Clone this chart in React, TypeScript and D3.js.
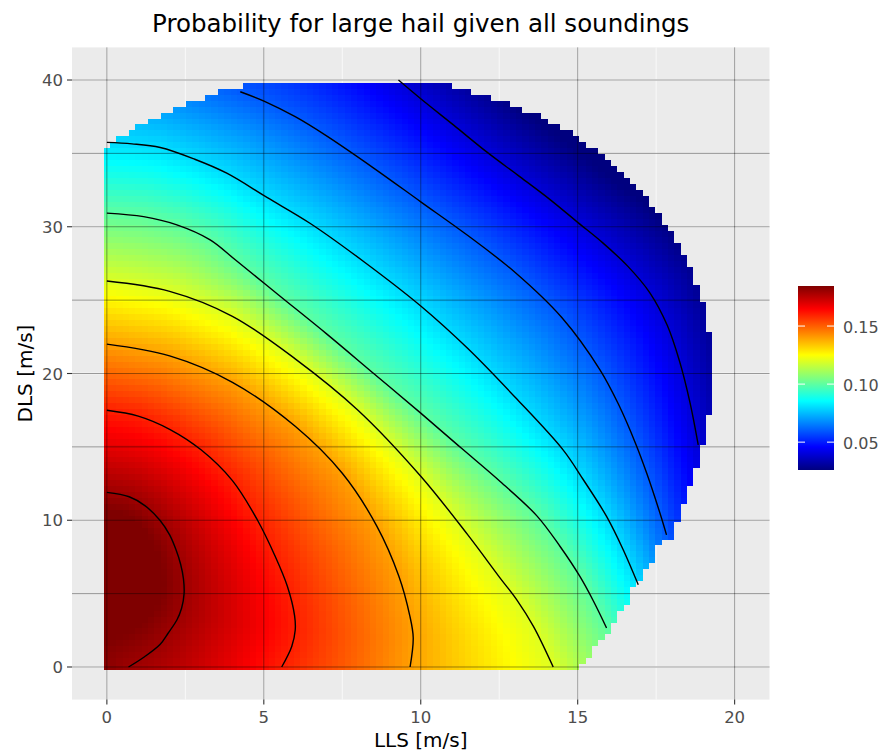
import React, { useMemo } from "react";
import * as d3 from "d3";

// ---------- text ----------
const titleText = "Probability for large hail given all soundings";
const xLabel = "LLS [m/s]";
const yLabel = "DLS [m/s]";

// ---------- axes ----------
const xTicks = [0, 5, 10, 15, 20];
const yTicks = [0, 10, 20, 30, 40];
const xMinor = [2.5, 7.5, 12.5, 17.5];
const yMinor = [5, 15, 25, 35];
const refLinesX = [0, 5, 10, 15, 20];
const refLinesY = [0, 5, 10, 15, 20, 25, 30, 35, 40];
const xDomain = [-1.111, 21.111];
const yDomain = [-2.222, 42.222];

// ---------- colour scale ----------
const legendTicks = [0.05, 0.1, 0.15];
const valueRange = [0.026, 0.1845];
const paletteColors = ["#00007F", "#0000FF", "#007FFF", "#00FFFF", "#7FFF7F", "#FFFF00", "#FF7F00", "#FF0000", "#7F0000"];

// ---------- raster grid (100 x 100 cells) ----------
const gridN = 100;
const gridLLSMax = 20;
const gridDLSMax = 40;

// ---------- contour lines [LLS, DLS] ----------
const contourLevels = [0.04, 0.06, 0.08, 0.1, 0.12, 0.14, 0.16, 0.18];
const contour004 = [[9.29, 40], [9.98, 38.76], [11.04, 36.94], [12.1, 35.1], [13.1, 33.5], [14.12, 31.85], [15.0, 30.3], [15.8, 28.9], [16.6, 27.3], [17.3, 25.5], [17.85, 23.3], [18.25, 20.8], [18.58, 18.0], [18.84, 15.14]];
const contour006 = [[4.25, 39.2], [5.04, 38.53], [6.0, 37.5], [6.95, 36.26], [8.5, 34.0], [10, 31.7], [11.5, 29.4], [13, 26.9], [14.5, 23.8], [15.71, 20.25], [16.3, 17.9], [16.85, 15.2], [17.2, 13.2], [17.62, 10.49], [17.83, 9.0]];
const contour008 = [[0, 35.75], [0.8, 35.65], [1.7, 35.4], [2.8, 34.6], [3.82, 33.65], [5.1, 32.0], [6.47, 30.24], [8.2, 27.6], [10, 24.6], [11.5, 21.7], [13, 18.4], [14.54, 14.78], [15.18, 12.76], [15.92, 10.26], [16.45, 7.99], [16.93, 5.6]];
const contour010 = [[0, 30.93], [1.17, 30.69], [2.23, 30.13], [3.29, 29.11], [4.09, 27.75], [5.5, 25.3], [7, 22.7], [8.5, 20.0], [10, 17.3], [11.3, 14.9], [12.53, 12.64], [13.7, 10.3], [14.44, 8.21], [15.07, 6.17], [15.5, 4.5], [15.92, 2.66]];
const contour012 = [[0, 26.3], [2, 25.6], [4, 23.9], [6, 21.0], [8, 17.5], [10, 13.0], [11.5, 9.0], [12.53, 6.06], [13.06, 4.58], [13.59, 2.77], [14.22, 0]];
const contour014 = [[0, 22.0], [2, 21.2], [4, 19.4], [6, 16.4], [7.5, 13.2], [8.6, 9.6], [9.3, 6.2], [9.65, 3.5], [9.76, 2.0], [9.66, 0]];
const contour016 = [[0, 17.5], [1, 17.1], [2, 16.2], [3, 14.8], [4, 12.7], [4.8, 10.0], [5.35, 7.6], [5.75, 5.5], [5.98, 3.5], [6.0, 2.5], [5.89, 1.4], [5.57, 0]];
const contour018 = [[0, 11.9], [0.71, 11.6], [1.21, 11.0], [1.69, 10.0], [2.0, 9.0], [2.2, 8.0], [2.35, 7.0], [2.44, 6.0], [2.46, 5.0], [2.38, 4.0], [2.23, 3.2], [1.95, 2.3], [1.7, 1.55], [1.2, 0.7], [0.69, 0]];

// ---------- outline of the area that holds data [LLS, DLS] ----------
const maskBoundary = [[-1, -1], [-1, 35.15], [-0.09, 35.15], [0.11, 35.56], [0.3, 36.0], [0.72, 36.4], [0.92, 36.8], [1.31, 37.24], [1.73, 37.65], [2.12, 38.06], [2.52, 38.42], [3.13, 38.83], [3.53, 39.24], [4.35, 39.62], [5.15, 40.0], [10.19, 40.0], [11.02, 39.62], [11.62, 39.24], [12.23, 38.83], [12.84, 38.42], [13.25, 38.06], [13.67, 37.65], [14.34, 36.94], [14.55, 36.6], [14.95, 36.19], [15.16, 35.81], [15.38, 35.42], [15.77, 35.01], [15.96, 34.51], [16.17, 34.15], [16.37, 33.69], [16.6, 33.31], [16.8, 32.92], [17.01, 32.51], [17.18, 32.1], [17.39, 31.26], [17.6, 30.88], [17.78, 30.06], [18.0, 29.63], [18.19, 28.83], [18.4, 28.01], [18.6, 27.29], [18.79, 26.04], [19.01, 24.9], [19.2, 22.86], [19.2, 17.19], [19.01, 15.14], [18.79, 13.55], [18.58, 12.3], [18.4, 11.17], [18.21, 9.92], [18.0, 8.9], [17.63, 8.33], [17.42, 7.43], [17.2, 6.63], [16.99, 5.83], [16.78, 5.38], [16.6, 4.58], [16.4, 3.79], [16.19, 3.0], [15.98, 2.32], [15.77, 1.86], [15.58, 1.4], [15.37, 0.61], [15.19, 0.22], [14.98, -0.2], [14.98, -1]];

const contourData = [contour004, contour006, contour008, contour010, contour012, contour014, contour016, contour018];

// ---------- layout ----------
const W = 882;
const H = 755;
const panel = { left: 72, right: 769.5, top: 47.4, bottom: 699.6 };
const legendBox = { x: 798, y: 286, w: 36, h: 184 };
const FONT = "'DejaVu Sans', 'Liberation Sans', Arial, sans-serif";

function extendLine(pts: number[][]) {
  const first = pts[0], second = pts[1];
  const last = pts[pts.length - 1], prev = pts[pts.length - 2];
  let head: number[][];
  let corner: number[][] = [];
  if (first[0] <= 0.05) {
    head = [[-3, first[1]]];
  } else {
    const dx = first[0] - second[0], dy = first[1] - second[1];
    const t = (44 - first[1]) / dy;
    head = [[first[0] + t * dx, 44]];
    corner = [[-3, 44]];
  }
  let tail: number[][];
  if (last[1] <= 0.05) {
    tail = [[last[0], -3]];
  } else {
    const dx = last[0] - prev[0], dy = last[1] - prev[1];
    const t = (-3 - last[1]) / dy;
    tail = [[last[0] + t * dx, -3]];
  }
  const line = [...head, ...pts, ...tail];
  const poly = [...corner, ...line, [-3, -3]];
  return { line, poly };
}

function distToPolyline(p: number[], line: number[][]) {
  let best = Infinity;
  for (let i = 0; i < line.length - 1; i++) {
    const a = line[i], b = line[i + 1];
    const vx = b[0] - a[0], vy = b[1] - a[1];
    const wx = p[0] - a[0], wy = p[1] - a[1];
    const l2 = vx * vx + vy * vy;
    let t = l2 > 0 ? (wx * vx + wy * vy) / l2 : 0;
    t = Math.max(0, Math.min(1, t));
    const dx = wx - t * vx, dy = wy - t * vy;
    const d = Math.sqrt(dx * dx + dy * dy);
    if (d < best) best = d;
  }
  return best;
}

export default function App() {
  const xs = d3.scaleLinear().domain(xDomain).range([panel.left, panel.right]);
  const ys = d3.scaleLinear().domain(yDomain).range([panel.bottom, panel.top]);
  const colorStops = paletteColors.map((_, i) => valueRange[0] + (i * (valueRange[1] - valueRange[0])) / (paletteColors.length - 1));
  const color = d3.scaleLinear<string>().domain(colorStops).range(paletteColors).interpolate(d3.interpolateRgb).clamp(true);
  const legendScale = d3.scaleLinear().domain(valueRange).range([legendBox.y + legendBox.h, legendBox.y]);

  const cells = useMemo(() => {
    const ext = contourData.map(extendLine);
    const linePx = ext.map((e) => e.line.map(([a, b]) => [xs(a), ys(b)]));
    const polyPx = ext.map((e) => e.poly.map(([a, b]) => [xs(a), ys(b)] as [number, number]));
    const mask = maskBoundary.map(([a, b]) => [a, b] as [number, number]);
    const stepX = gridLLSMax / (gridN - 1);
    const stepY = gridDLSMax / (gridN - 1);
    const out: { x: number; y: number; w: number; h: number; fill: string }[] = [];
    const L = contourLevels;
    const K = L.length;
    for (let i = 0; i < gridN; i++) {
      const cx = i * stepX;
      const x0 = xs((i - 0.5) * stepX), x1 = xs((i + 0.5) * stepX);
      for (let j = 0; j < gridN; j++) {
        const cy = j * stepY;
        if (!d3.polygonContains(mask, [cx, cy])) continue;
        const p: [number, number] = [xs(cx), ys(cy)];
        const d: number[] = [];
        let n = 0;
        for (let k = 0; k < K; k++) {
          d.push(distToPolyline(p, linePx[k]));
          if (d3.polygonContains(polyPx[k], p)) n++;
        }
        let v: number;
        if (n === 0) {
          v = L[0] - (L[1] - L[0]) * (d[0] / Math.max(d[1] - d[0], 1));
        } else if (n === K) {
          v = L[K - 1] + (L[K - 1] - L[K - 2]) * (d[K - 1] / Math.max(d[K - 2] - d[K - 1], 1));
        } else {
          const a = d[n - 1], b = d[n];
          v = L[n - 1] + (L[n] - L[n - 1]) * (a / Math.max(a + b, 1e-6));
        }
        v = Math.max(valueRange[0], Math.min(valueRange[1], v));
        const y0 = ys((j + 0.5) * stepY), y1 = ys((j - 0.5) * stepY);
        out.push({ x: x0, y: y0, w: x1 - x0, h: y1 - y0, fill: color(v) });
      }
    }
    return out;
  }, []);

  const lineGen = d3
    .line<number[]>()
    .x((d) => xs(d[0]))
    .y((d) => ys(d[1]))
    .curve(d3.curveCatmullRom.alpha(0.5));

  return (
    <svg width={W} height={H} style={{ display: "block", position: "absolute", left: 0, top: 0 }} fontFamily={FONT}>
      <defs>
        <linearGradient id="legendGrad" x1="0" y1="1" x2="0" y2="0">
          {paletteColors.map((c, i) => (
            <stop key={i} offset={i / (paletteColors.length - 1)} stopColor={c} />
          ))}
        </linearGradient>
      </defs>
      <rect x={0} y={0} width={W} height={H} fill="#ffffff" />
      <rect x={panel.left} y={panel.top} width={panel.right - panel.left} height={panel.bottom - panel.top} fill="#EBEBEB" />
      {/* white background grid */}
      {xMinor.map((v) => (
        <line key={"xm" + v} x1={xs(v)} x2={xs(v)} y1={panel.top} y2={panel.bottom} stroke="#fff" strokeWidth={0.7} />
      ))}
      {yMinor.map((v) => (
        <line key={"ym" + v} y1={ys(v)} y2={ys(v)} x1={panel.left} x2={panel.right} stroke="#fff" strokeWidth={0.7} />
      ))}
      {xTicks.map((v) => (
        <line key={"xM" + v} x1={xs(v)} x2={xs(v)} y1={panel.top} y2={panel.bottom} stroke="#fff" strokeWidth={1.3} />
      ))}
      {yTicks.map((v) => (
        <line key={"yM" + v} y1={ys(v)} y2={ys(v)} x1={panel.left} x2={panel.right} stroke="#fff" strokeWidth={1.3} />
      ))}
      {/* raster */}
      <g shapeRendering="crispEdges">
        {cells.map((c, i) => (
          <rect key={i} x={c.x} y={c.y} width={c.w} height={c.h} fill={c.fill} />
        ))}
      </g>
      {/* contours */}
      {contourData.map((pts, i) => (
        <path key={"c" + i} d={lineGen(pts) || ""} fill="none" stroke="#000" strokeWidth={1.4} />
      ))}
      {/* dark reference lines */}
      {refLinesX.map((v) => (
        <line key={"rx" + v} x1={xs(v)} x2={xs(v)} y1={panel.top} y2={panel.bottom} stroke="#000" strokeOpacity={0.4} strokeWidth={1} />
      ))}
      {refLinesY.map((v) => (
        <line key={"ry" + v} y1={ys(v)} y2={ys(v)} x1={panel.left} x2={panel.right} stroke="#000" strokeOpacity={0.4} strokeWidth={1} />
      ))}
      {/* axes */}
      {xTicks.map((v) => (
        <g key={"xt" + v}>
          <line x1={xs(v)} x2={xs(v)} y1={panel.bottom} y2={panel.bottom + 5} stroke="#333" strokeWidth={1.1} />
          <text x={xs(v)} y={723} textAnchor="middle" fontSize={16.5} fill="#4D4D4D">
            {v}
          </text>
        </g>
      ))}
      {yTicks.map((v) => (
        <g key={"yt" + v}>
          <line x1={panel.left - 5} x2={panel.left} y1={ys(v)} y2={ys(v)} stroke="#333" strokeWidth={1.1} />
          <text x={panel.left - 9} y={ys(v) + 6} textAnchor="end" fontSize={16.5} fill="#4D4D4D">
            {v}
          </text>
        </g>
      ))}
      <text x={(panel.left + panel.right) / 2} y={746.5} textAnchor="middle" fontSize={20} fill="#000">
        {xLabel}
      </text>
      <text transform={`translate(32, ${(panel.top + panel.bottom) / 2}) rotate(-90)`} textAnchor="middle" fontSize={20} fill="#000">
        {yLabel}
      </text>
      <text x={(panel.left + panel.right) / 2} y={32} textAnchor="middle" fontSize={24.5} fill="#000">
        {titleText}
      </text>
      {/* legend */}
      <rect x={legendBox.x} y={legendBox.y} width={legendBox.w} height={legendBox.h} fill="url(#legendGrad)" />
      {legendTicks.map((v) => (
        <g key={"lt" + v}>
          <line x1={legendBox.x} x2={legendBox.x + 7} y1={legendScale(v)} y2={legendScale(v)} stroke="#fff" strokeWidth={1} />
          <line x1={legendBox.x + legendBox.w - 7} x2={legendBox.x + legendBox.w} y1={legendScale(v)} y2={legendScale(v)} stroke="#fff" strokeWidth={1} />
          <text x={legendBox.x + legendBox.w + 9} y={legendScale(v) + 7} fontSize={16} fill="#4D4D4D">
            {v.toFixed(2)}
          </text>
        </g>
      ))}
    </svg>
  );
}
